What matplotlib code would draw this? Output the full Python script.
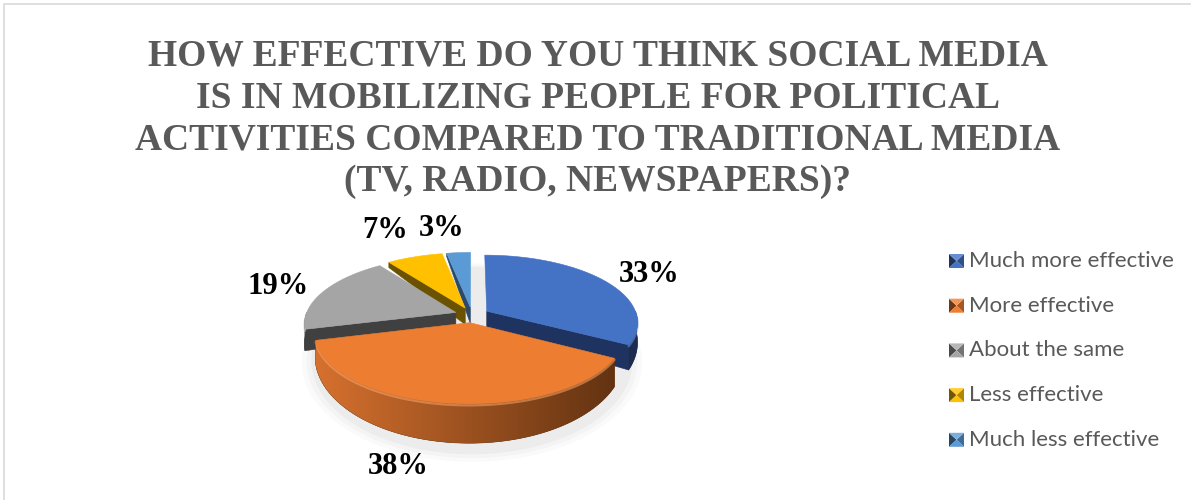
import numpy as np
import matplotlib
matplotlib.use("Agg")
import matplotlib.pyplot as plt
from matplotlib.patches import Polygon
from matplotlib.colors import to_rgb

# アンケート結果
categories = ["Much more effective", "More effective", "About the same",
              "Less effective", "Much less effective"]
shares = [33, 38, 19, 7, 3]
title_lines = ["HOW EFFECTIVE DO YOU THINK SOCIAL MEDIA",
               "IS IN MOBILIZING PEOPLE FOR POLITICAL",
               "ACTIVITIES COMPARED TO TRADITIONAL MEDIA",
               "(TV, RADIO, NEWSPAPERS)?"]

# 配色（上面 / 側面の明るい側 / 側面の暗い側 / 切り口）
top_colors = ["#4472C4", "#ED7D31", "#A5A5A5", "#FFC000", "#5B9BD5"]
wall_light = ["#22396a", "#dc7430", "#4a4a4a", "#7a5b00", "#325a80"]
wall_dark = ["#1b2c50", "#5a2e0f", "#3c3c3c", "#664c00", "#284664"]
cut_colors = ["#1e3360", "#6b3512", "#404040", "#6b5200", "#2c4a68"]
rim_colors = ["#6f93d6", "#f6a56b", "#c4c4c4", "#ffd35a", "#8bbbe6"]

# ラベル位置（ピクセル座標）
label_xy = [(649, 274), (398, 467), (278, 286), (385, 231), (442, 228)]

W, H = 1191, 500
fig = plt.figure(figsize=(W / 100, H / 100), dpi=100)
ax = fig.add_axes([0, 0, 1, 1])
ax.set_xlim(0, W)
ax.set_ylim(H, 0)
ax.axis("off")

# 外枠
ax.plot([4, 4, W + 5], [H + 5, 4, 4], color="#d9d9d9", lw=1.2)

# 3D 円グラフの投影パラメータ
CX, CY = 472, 315
R, B = 150, 65.9
P = 0.156
EXPLODE = 0.115


def project(x, y, z):
    # z = 0 が上面、z = 1 が底面
    x = np.asarray(x, dtype=float)
    y = np.asarray(y, dtype=float)
    f = 1.0 / (1.0 + P * y)
    thick = 18 - 13 * y
    return CX + R * x * f, CY - B * y * f + thick * z * f


def arc(ox, oy, a0, a1, z, n=None):
    if n is None:
        n = max(int(abs(a1 - a0) / 1.5), 4)
    t = np.radians(np.linspace(a0, a1, n))
    return project(ox + np.cos(t), oy + np.sin(t), z)


def add_poly(xs, ys, color, zorder):
    p = Polygon(np.column_stack([xs, ys]), closed=True, facecolor=color,
                edgecolor=color, lw=0.4, zorder=zorder)
    ax.add_patch(p)
    return p


def gradient_fill(patch, c_left, c_right, zorder):
    c0 = np.array(to_rgb(c_left))
    c1 = np.array(to_rgb(c_right))
    t = np.linspace(0, 1, 256)[None, :, None]
    img = c0 + (c1 - c0) * t
    x0, x1 = CX - R * 1.15, CX + R * 1.1
    im = ax.imshow(img, extent=(x0, x1, 470, 240), aspect="auto",
                   interpolation="bilinear", zorder=zorder)
    im.set_clip_path(patch)


# 影（ごく薄く）
for k, a in zip([1.1, 1.07, 1.04], [0.02, 0.025, 0.03]):
    t = np.radians(np.linspace(0, 360, 200))
    sx, sy = project(k * np.cos(t), k * np.sin(t) - 0.1, 1.2)
    ax.fill(sx, sy, color="#000000", alpha=a, lw=0, zorder=1)

# 各スライスの角度（12時から時計回り）
cum = np.concatenate([[0], np.cumsum(shares)]) / sum(shares) * 360
slices = []
for i in range(len(shares)):
    hi = 90 - cum[i]
    lo = 90 - cum[i + 1]
    mid = np.radians((lo + hi) / 2)
    slices.append((i, lo, hi, mid))

# 奥のスライスから描く
slices.sort(key=lambda s: -np.sin(s[3]))
z = 2
for i, lo, hi, mid in slices:
    ox, oy = EXPLODE * np.cos(mid), EXPLODE * np.sin(mid)

    # 切り口の面
    for ang, visible in [(lo, np.cos(np.radians(lo)) > 0),
                         (hi, np.cos(np.radians(hi)) < 0)]:
        if not visible:
            continue
        a = np.radians(ang)
        px = [ox, ox + np.cos(a), ox + np.cos(a), ox]
        py = [oy, oy + np.sin(a), oy + np.sin(a), oy]
        tx, ty = project(px[:2], py[:2], 0)
        bx, by = project(px[2:], py[2:], 1)
        add_poly(np.r_[tx, bx], np.r_[ty, by], cut_colors[i], z)
        z += 1

    # 手前側の外周面
    for k in range(-2, 2):
        f0, f1 = max(lo, -180 + 360 * k), min(hi, 360 * k)
        if f1 - f0 <= 0.1:
            continue
        tx, ty = arc(ox, oy, f0, f1, 0)
        bx, by = arc(ox, oy, f1, f0, 1)
        p = add_poly(np.r_[tx, bx], np.r_[ty, by], wall_dark[i], z)
        gradient_fill(p, wall_light[i], wall_dark[i], z + 0.5)
        z += 1
        ax.plot(tx, ty + 1.5, color=rim_colors[i], lw=1.6, alpha=0.55,
                solid_capstyle="round", zorder=z + 0.5)

    # 上面
    ax_, ay_ = project([ox], [oy], 0)
    rx, ry = arc(ox, oy, lo, hi, 0)
    add_poly(np.r_[ax_, rx], np.r_[ay_, ry], top_colors[i], z + 1)
    z += 2

# データラベル
for i, (lx, ly) in enumerate(label_xy):
    ax.text(lx, ly, f"{shares[i]}%", ha="center", va="center",
            fontsize=22, fontweight="bold", family="Liberation Serif",
            color="black", zorder=100)

# タイトル
for j, line in enumerate(title_lines):
    ax.text(598, 66 + 41.7 * j, line, ha="center", va="baseline",
            fontsize=27, fontweight="bold", family="Liberation Serif",
            color="#595959", zorder=100)

# 凡例
for i, name in enumerate(categories):
    yc = 261 + 44.7 * i
    x0, x1, y0, y1 = 949, 964, yc - 7, yc + 7
    cx_, cy_ = (x0 + x1) / 2, yc
    base = np.array(to_rgb(top_colors[i]))
    dark = base * 0.45
    light = base + (1 - base) * 0.2
    tris = [([x0, x0, cx_], [y0, y1, cy_], dark),
            ([x1, x1, cx_], [y0, y1, cy_], base * 0.7),
            ([x0, x1, cx_], [y0, y0, cy_], light),
            ([x0, x1, cx_], [y1, y1, cy_], base)]
    for tx, ty, col in tris:
        ax.fill(tx, ty, color=col, lw=0, zorder=100)
    ax.text(969, yc, name, ha="left", va="center", fontsize=16,
            family="Lato", color="#595959", zorder=100)

plt.savefig("out.png", dpi=100)
plt.close()
